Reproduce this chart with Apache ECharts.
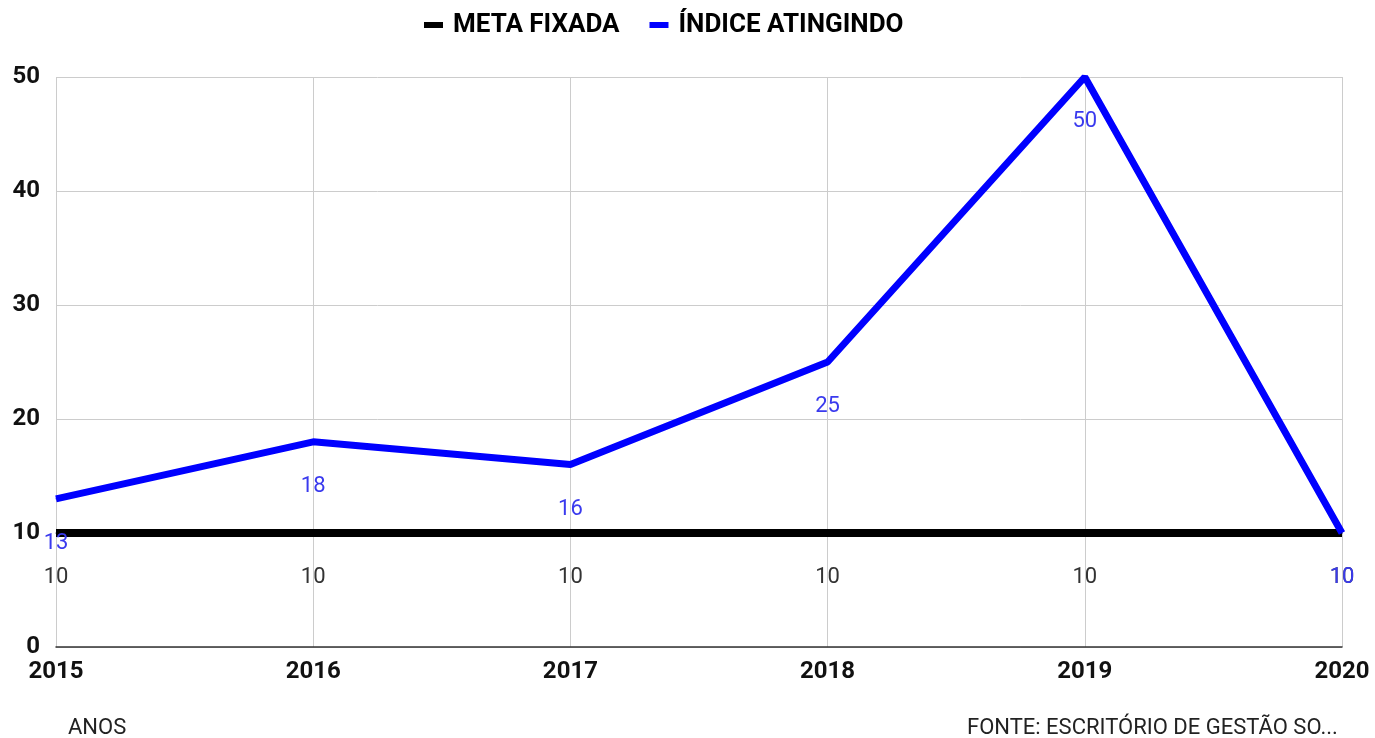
<!DOCTYPE html>
<html>
<head>
<meta charset="utf-8">
<script src="https://cdn.jsdelivr.net/npm/echarts@6/dist/echarts.min.js"></script>
<style>
  html, body { margin: 0; padding: 0; background: #fff; }
  #main { width: 1375px; height: 738px; }
</style>
</head>
<body>
<div id="main"></div>
<script>
var anos = ['2015', '2016', '2017', '2018', '2019', '2020'];
var metaFixada = [10, 10, 10, 10, 10, 10];
var indiceAtingindo = [13, 18, 16, 25, 50, 10];

var myChart = echarts.init(document.getElementById('main'));
var option = {
  backgroundColor: '#fff',
  textStyle: { fontFamily: 'Roboto' },
  legend: {
    top: 7,
    left: 419,
    itemWidth: 19,
    itemHeight: 6,
    itemGap: 30,
    icon: 'rect',
    textStyle: { fontSize: 26, fontWeight: 'bold', color: '#000', fontFamily: 'Roboto', padding: [0, 0, 0, 5] },
    data: ['META FIXADA', 'ÍNDICE ATINGINDO']
  },
  grid: { left: 56, right: 33, top: 77, bottom: 91, containLabel: false },
  xAxis: {
    type: 'category',
    boundaryGap: false, // pontos nas linhas de grade
    data: anos,
    axisLine: { lineStyle: { color: '#333', width: 1.5 } },
    axisTick: { show: false },
    axisLabel: { fontSize: 24, fontWeight: 'bold', color: '#111', margin: 13 },
    splitLine: { show: true, lineStyle: { color: '#ccc' } }
  },
  yAxis: {
    type: 'value',
    min: 0,
    max: 50,
    interval: 10,
    axisLine: { show: false },
    axisTick: { show: false },
    axisLabel: { fontSize: 24, fontWeight: 'bold', color: '#111', margin: 16 },
    splitLine: { lineStyle: { color: '#ccc' } }
  },
  series: [
    {
      name: 'META FIXADA',
      type: 'line',
      data: metaFixada,
      symbol: 'circle',
      symbolSize: 1,
      color: '#000',
      lineStyle: { color: '#000', width: 8 },
      label: { show: true, position: 'bottom', distance: 33, fontSize: 22, color: '#333' }
    },
    {
      name: 'ÍNDICE ATINGINDO',
      type: 'line',
      data: indiceAtingindo,
      symbol: 'circle',
      symbolSize: 1,
      color: '#0000ff',
      lineStyle: { color: '#0000ff', width: 7 },
      label: { show: true, position: 'bottom', distance: 33, fontSize: 22, color: '#3a3aee' }
    }
  ],
  graphic: [
    { type: 'text', left: 68, top: 717, style: { text: 'ANOS', fontSize: 22, fill: '#222', fontFamily: 'Roboto' } },
    { type: 'text', left: 967, top: 717, style: { text: 'FONTE: ESCRITÓRIO DE GESTÃO SO...', fontSize: 22, fill: '#222', fontFamily: 'Roboto' } }
  ]
};
myChart.setOption(option);
</script>
</body>
</html>
